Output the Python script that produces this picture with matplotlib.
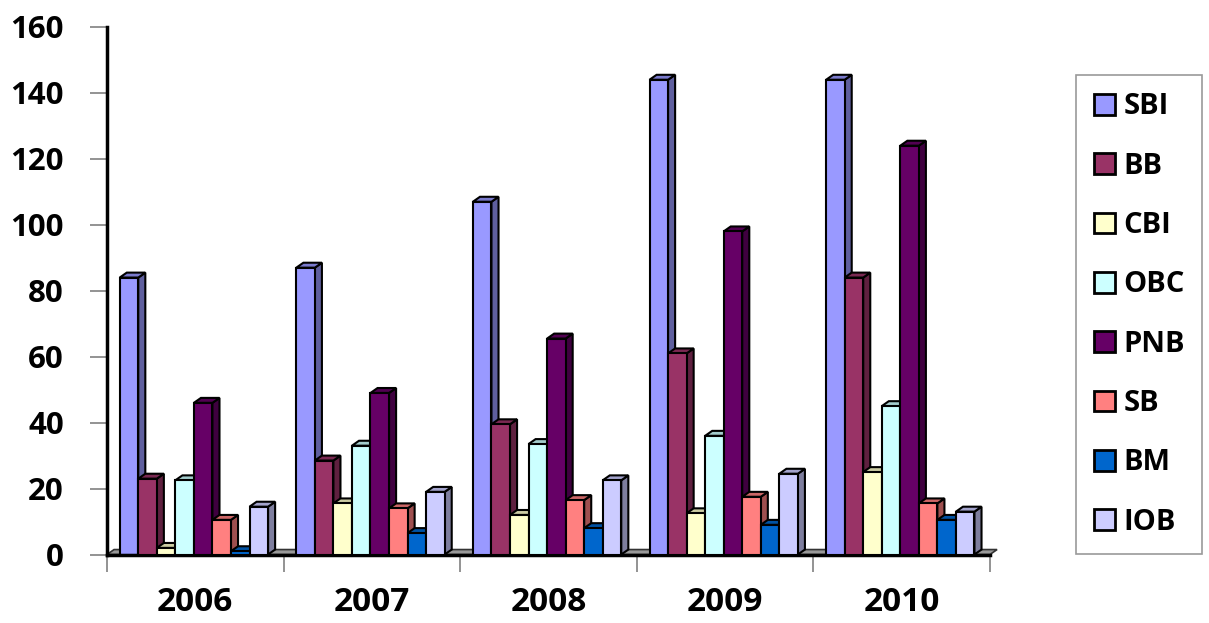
import numpy as np
import matplotlib
matplotlib.use('Agg')
import matplotlib.pyplot as plt
from matplotlib.patches import Rectangle, Polygon, Patch
from matplotlib.colors import to_rgb

plt.rcParams['font.family'] = ['Open Sans', 'DejaVu Sans']
plt.rcParams['font.weight'] = 'bold'

# Yearly values per bank
years = ['2006', '2007', '2008', '2009', '2010']
banks = ['SBI', 'BB', 'CBI', 'OBC', 'PNB', 'SB', 'BM', 'IOB']
sbi = [84, 87, 107, 144, 144]
bb = [23, 28.5, 39.5, 61, 84]
cbi = [2, 15.5, 12, 12.5, 25]
obc = [22.5, 33, 33.5, 36, 45]
pnb = [46, 49, 65.5, 98, 124]
sb = [10.5, 14, 16.5, 17.5, 15.5]
bm = [1, 6.5, 8, 9, 10.5]
iob = [14.5, 19, 22.5, 24.5, 13]
values = [sbi, bb, cbi, obc, pnb, sb, bm, iob]

colors = ['#9999FF', '#993366', '#FFFFCC', '#CCFFFF',
          '#660066', '#FF8080', '#0066CC', '#CCCCFF']


def shade(c, f):
    r, g, b = to_rgb(c)
    return (r * f, g * f, b * f)


def bar3d(ax, x, w, h, color, dx, dy, z):
    # side face, top face, then the front face
    side = Polygon([(x + w, 0), (x + w + dx, dy), (x + w + dx, h + dy), (x + w, h)],
                   closed=True, facecolor=shade(color, 0.62), edgecolor='black',
                   lw=1.5, joinstyle='miter', zorder=z)
    top = Polygon([(x, h), (x + dx, h + dy), (x + w + dx, h + dy), (x + w, h)],
                  closed=True, facecolor=shade(color, 0.8), edgecolor='black',
                  lw=1.5, joinstyle='miter', zorder=z)
    front = Rectangle((x, 0), w, h, facecolor=color, edgecolor='black',
                      lw=1.5, joinstyle='miter', zorder=z + 0.5)
    for p in (side, top, front):
        ax.add_patch(p)


fig = plt.figure(figsize=(12.09, 6.23), dpi=100)
ax = fig.add_axes([107 / 1209, (623 - 554.5) / 623, 883 / 1209, 527.5 / 623])

bw = 0.105
offset = 0.072
dx, dy = 0.04, 1.5

# grey floor under the bars
ax.add_patch(Polygon([(0, 0), (dx, dy), (5 + dx, dy), (5, 0)], closed=True,
                     facecolor='#999999', edgecolor='#333333', lw=1.2, zorder=1,
                     clip_on=False))

z = 2
for i in range(len(years)):
    for j, series in enumerate(values):
        bar3d(ax, i + offset + j * bw, bw, series[i], colors[j], dx, dy, z)
        z += 1

ax.set_xlim(0, 5)
ax.set_ylim(0, 160)
ax.set_yticks(np.arange(0, 161, 20))
ax.set_xticks(np.arange(0, 6))
ax.set_xticklabels([])
ax.set_xticks(np.arange(len(years)) + 0.5, minor=True)
ax.set_xticklabels(years, minor=True)
ax.tick_params(axis='x', which='minor', length=0, pad=23, labelsize=24)
ax.tick_params(axis='x', which='major', length=12, color='#808080', width=1.2)
ax.tick_params(axis='y', length=12, color='#808080', width=1.2, pad=19, labelsize=22.5)

for s in ('top', 'right'):
    ax.spines[s].set_visible(False)
ax.spines['left'].set_linewidth(2.5)
ax.spines['bottom'].set_linewidth(2.5)
ax.patch.set_alpha(0)

handles = [Patch(facecolor=c, edgecolor='black', lw=2) for c in colors]
leg = fig.legend(handles, banks, loc='upper left',
                 bbox_to_anchor=(1076 / 1209, (623 - 75) / 623),
                 prop={'size': 21, 'weight': 'bold'}, frameon=True, fancybox=False,
                 borderpad=0.6, labelspacing=1.04, handlelength=0.72,
                 handleheight=0.72, handletextpad=0.3, borderaxespad=0)
leg.get_frame().set_edgecolor('#808080')
leg.get_frame().set_linewidth(1.2)

fig.savefig('out.png', dpi=100)
